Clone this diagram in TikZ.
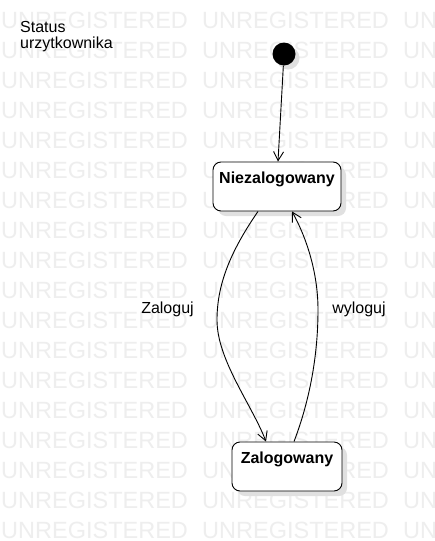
\documentclass[tikz,border=0pt]{standalone}
\usepackage{fontspec}
\setmainfont{Liberation Sans}
\usetikzlibrary{arrows.meta,shadows}
\definecolor{wmgray}{RGB}{238,238,238}
\definecolor{shgray}{RGB}{224,224,224}
\begin{document}
\begin{tikzpicture}[x=1pt,y=-1pt,
  wmtext/.style={anchor=base west,inner sep=0pt,text=wmgray,font=\fontsize{23.5}{26}\selectfont},
  lbl/.style={inner sep=0pt,font=\fontsize{16}{18}\selectfont},
  boldlbl/.style={inner sep=0pt,anchor=base,font=\fontsize{16}{18}\selectfont\bfseries},
  statebox/.style={draw,line width=0.9pt,fill=white,rounded corners=8pt,minimum height=49pt,inner sep=0pt,
    drop shadow={fill=shgray,opacity=1,shadow xshift=5pt,shadow yshift=-5pt}},
  initstate/.style={circle,fill=black,minimum size=23pt,inner sep=0pt,
    drop shadow={fill=shgray,opacity=1,shadow xshift=4pt,shadow yshift=-4pt}},
  arr/.style={-{Straight Barb[length=9pt,width=10pt]},line width=0.9pt}]
\useasboundingbox (0,0) rectangle (435,541);
\fill[white] (0,0) rectangle (435,541);
% watermark
\begin{scope}
\clip (0,0) rectangle (435,541);
\foreach \r in {0,...,17}{
  \foreach \c/\xx in {0/1,1/202,2/403}{
    \node[wmtext] (wm-\r-\c) at (\xx,28+30*\r) {UNREGISTERED};
  }
}
\end{scope}
% title
\node[lbl,anchor=base west] (title1) at (20,32.3) {Status};
\node[lbl,anchor=base west] (title2) at (20,48.3) {urzytkownika};
% states
\node[initstate] (init) at (284,54) {};
\node[statebox,minimum width=128pt] (niez) at (277,186.5) {};
\node[boldlbl] (niezt) at (277,183.5) {Niezalogowany};
\node[statebox,minimum width=110pt] (zal) at (287,466.5) {};
\node[boldlbl] (zalt) at (287,463.5) {Zalogowany};
% transitions
\draw[arr] (init) -- ([xshift=1pt]niez.north);
\draw[arr] ([xshift=-19pt]niez.south) .. controls (230,252) and (217,285) .. (217,320)
  .. controls (217,360) and (252,405) .. ([xshift=-21pt]zal.north);
\draw[arr] ([xshift=7pt]zal.north) .. controls (308,405) and (318,360) .. (318,310)
  .. controls (318,270) and (305,235) .. ([xshift=15pt]niez.south);
% labels
\node[lbl,anchor=base] (zaloguj) at (167.5,313) {Zaloguj};
\node[lbl,anchor=base] (wyloguj) at (359,313) {wyloguj};
\end{tikzpicture}
\end{document}
